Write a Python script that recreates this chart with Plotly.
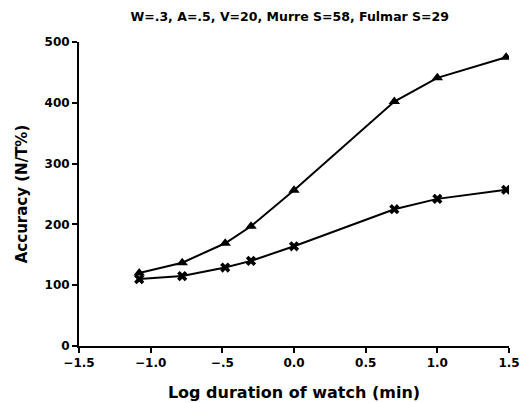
import plotly.graph_objects as go

log_duration = [-1.08, -0.78, -0.48, -0.30, 0.0, 0.70, 1.0, 1.48]
murre_accuracy = [120, 137, 169, 197, 256, 402, 441, 475]
fulmar_accuracy = [110, 115, 129, 140, 164, 225, 242, 257]

x_tickvals = [-1.5, -1.0, -0.5, 0.0, 0.5, 1.0, 1.5]
x_ticktext = ["\u22121.5", "\u22121.0", "\u2212.5", "0.0", "0.5", "1.0", "1.5"]
y_tickvals = [0, 100, 200, 300, 400, 500]

fig = go.Figure()
fig.add_trace(go.Scatter(
    x=log_duration, y=murre_accuracy, mode="lines+markers",
    line=dict(color="black", width=2),
    marker=dict(symbol="triangle-up", size=10, color="black"),
    name="Murre"))
fig.add_trace(go.Scatter(
    x=log_duration, y=fulmar_accuracy, mode="lines+markers",
    line=dict(color="black", width=2),
    marker=dict(symbol="x", size=9, color="black"),
    name="Fulmar"))

font_family = "DejaVu Sans, sans-serif"
fig.update_layout(
    width=523, height=395,
    margin=dict(l=71, r=22, t=34, b=57),
    plot_bgcolor="white", paper_bgcolor="white",
    showlegend=False,
    font=dict(family=font_family, color="black"),
    title=dict(text="<b>W=.3, A=.5, V=20, Murre S=58, Fulmar S=29</b>",
               xref="paper", x=0.49, xanchor="center",
               yref="container", y=0.99, yanchor="top",
               font=dict(size=12.5, family=font_family, color="black")),
)
fig.update_xaxes(
    range=[-1.5, 1.5], tickvals=x_tickvals, ticktext=x_ticktext,
    showgrid=False, zeroline=False, showline=True, linecolor="black", linewidth=2,
    ticks="outside", ticklen=5, tickwidth=2, tickcolor="black",
    tickfont=dict(size=12, family=font_family, color="black", weight="bold"),
    automargin=False,
    title=dict(text="<b>Log duration of watch (min)</b>", standoff=17,
               font=dict(size=16, family=font_family, color="black")),
)
fig.update_yaxes(
    range=[0, 500], tickvals=y_tickvals,
    showgrid=False, zeroline=False, showline=True, linecolor="black", linewidth=2,
    ticks="outside", ticklen=5, tickwidth=2, tickcolor="black",
    tickfont=dict(size=12, family=font_family, color="black", weight="bold"),
    automargin=False,
    title=dict(text="<b>Accuracy (N/T%)</b>", standoff=13,
               font=dict(size=15, family=font_family, color="black")),
)

fig.write_html("out.html")
